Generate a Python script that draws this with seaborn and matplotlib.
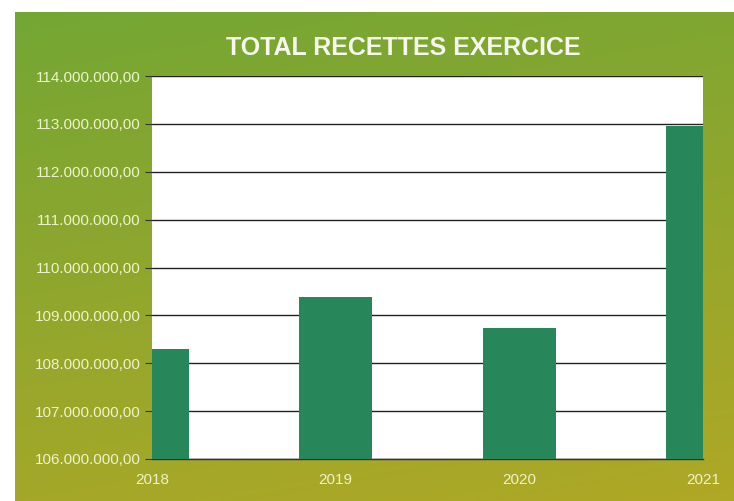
"""
Total recettes exercice, bar chart on a green gradient panel.
"""
import numpy as np
import pandas as pd
import seaborn as sns
import matplotlib.pyplot as plt
from matplotlib.ticker import FuncFormatter, MultipleLocator

# data
years = ["2018", "2019", "2020", "2021"]
recettes = [108_300_000, 109_380_000, 108_730_000, 112_950_000]

df = pd.DataFrame({"annee": years, "recettes": recettes})


def fr_format(v, pos):
    # 114.000.000,00 style
    s = f"{v:,.2f}"
    return s.replace(",", " ").replace(".", ",").replace(" ", ".")


def main():
    sns.set_theme(style="white")
    plt.rcParams['font.family'] = ['Liberation Sans', 'DejaVu Sans']

    fig = plt.figure(figsize=(7.34, 5.01), dpi=100)
    fig.patch.set_facecolor("white")

    # --- background panel with gradient ---
    bg = fig.add_axes([15 / 734, 0, 1 - 15 / 734, 1 - 12 / 501])
    bg.set_axis_off()
    ny, nx = 200, 200
    yy, xx = np.mgrid[0:1:ny * 1j, 0:1:nx * 1j]
    t = np.clip(0.8 * yy + 0.2 * xx, 0, 1)
    top = np.array([116, 166, 52]) / 255
    bottom = np.array([176, 168, 38]) / 255
    img = top[None, None, :] * (1 - t[..., None]) + bottom[None, None, :] * t[..., None]
    bg.imshow(img, aspect="auto", extent=(0, 1, 0, 1), origin="upper")

    # --- plot area ---
    ax = fig.add_axes([152 / 734, 1 - 459 / 501, (703 - 152) / 734, (459 - 76) / 501])
    ax.set_facecolor("white")
    sns.barplot(data=df, x="annee", y="recettes", color="#27875a", saturation=1,
                width=0.4, ax=ax, zorder=3, linewidth=0, edgecolor="#27875a")
    ax.set_xlim(0, 3)
    ax.set_ylim(106_000_000, 114_000_000)
    ax.yaxis.set_major_locator(MultipleLocator(1_000_000))
    ax.yaxis.set_major_formatter(FuncFormatter(fr_format))
    ax.grid(axis="y", color="#222222", linewidth=1.0, zorder=1)
    ax.set_axisbelow(True)
    for side in ["left", "right", "top"]:
        ax.spines[side].set_visible(False)
    ax.spines["bottom"].set_color("#333333")
    ax.spines["bottom"].set_linewidth(1.0)
    ax.set_xlabel("")
    ax.set_ylabel("")
    ax.tick_params(axis="y", length=5, width=0.8, color="#333333", left=True,
                   labelsize=11, labelcolor="#eef3c8", pad=3)
    ax.tick_params(axis="x", length=0, labelsize=11, labelcolor="#eef3c8", pad=10)

    fig.text(403 / 734, 1 - 48 / 501, "TOTAL RECETTES EXERCICE", ha="center",
             va="center", fontsize=18, fontweight="bold", color="#f6f8ee")

    plt.savefig("out.png", dpi=100)


if __name__ == "__main__":
    main()
